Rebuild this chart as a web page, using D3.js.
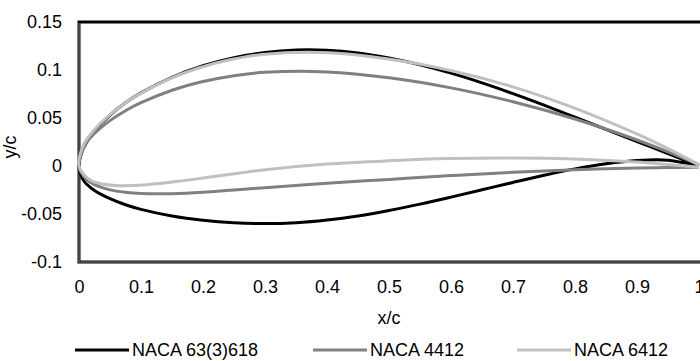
<!DOCTYPE html>
<html>
<head>
<meta charset="utf-8">
<script src="https://cdn.jsdelivr.net/npm/d3@7"></script>
<style>
  html, body { margin: 0; padding: 0; background: #fff; }
  svg { display: block; font-family: "Liberation Sans", Arial, sans-serif; }
</style>
</head>
<body>
<svg id="chart" width="700" height="361"></svg>
<script>
// Airfoil profiles, upper surface TE->LE then lower surface LE->TE

const naca63Upper = [
  [1.0, 0], [0.95, 0.0130], [0.9, 0.0254], [0.85, 0.0381], [0.8, 0.0508], [0.75, 0.0634],
  [0.7, 0.0754], [0.65, 0.0866], [0.6, 0.0967], [0.55, 0.1054], [0.5, 0.1125], [0.45, 0.1177],
  [0.4, 0.1206], [0.35, 0.1209], [0.3, 0.1183], [0.25, 0.1129], [0.2, 0.1044], [0.15, 0.0924],
  [0.1, 0.0762], [0.075, 0.0658], [0.05, 0.0531], [0.025, 0.0366], [0.0125, 0.0254],
  [0.0075, 0.0192], [0.005, 0.0155], [0, 0]
];
const naca63Lower = [
  [0.005, -0.0125], [0.0075, -0.0150], [0.0125, -0.0190], [0.025, -0.0255], [0.05, -0.0341],
  [0.075, -0.0404], [0.1, -0.0452], [0.15, -0.0521], [0.2, -0.0566], [0.25, -0.0592],
  [0.3, -0.0600], [0.35, -0.0591], [0.4, -0.0563], [0.45, -0.0520], [0.5, -0.0463],
  [0.55, -0.0397], [0.6, -0.0324], [0.65, -0.0248], [0.7, -0.0171], [0.75, -0.0097],
  [0.8, -0.0030], [0.85, 0.0023], [0.9, 0.0057], [0.95, 0.0060], [1.0, 0]
];

const naca4412Upper = [
  [1.0, 0.0013], [0.95, 0.0147], [0.9, 0.0271], [0.8, 0.0489], [0.7, 0.0669], [0.6, 0.0814],
  [0.5, 0.0919], [0.4, 0.0980], [0.3, 0.0976], [0.25, 0.0941], [0.2, 0.0880], [0.15, 0.0789],
  [0.1, 0.0659], [0.075, 0.0576], [0.05, 0.0473], [0.025, 0.0339], [0.0125, 0.0244], [0, 0]
];
const naca4412Lower = [
  [0.0125, -0.0143], [0.025, -0.0195], [0.05, -0.0249], [0.075, -0.0274], [0.1, -0.0286],
  [0.15, -0.0288], [0.2, -0.0274], [0.25, -0.0250], [0.3, -0.0226], [0.4, -0.0180],
  [0.5, -0.0140], [0.6, -0.0100], [0.7, -0.0065], [0.8, -0.0039], [0.9, -0.0022],
  [0.95, -0.0016], [1.0, -0.0013]
];

const naca6412Upper = [
  [1.0, 0.0012], [0.9515, 0.0175], [0.9024, 0.0326], [0.8035, 0.0593], [0.7037, 0.0817],
  [0.603, 0.0990], [0.5018, 0.1112], [0.4, 0.1180], [0.2955, 0.1161], [0.2433, 0.1106],
  [0.1915, 0.1018], [0.1402, 0.0891], [0.0897, 0.0720], [0.065, 0.0612], [0.041, 0.0484],
  [0.0179, 0.0325], [0.0072, 0.0219], [0, 0]
];
const naca6412Lower = [
  [0.0178, -0.0145], [0.0321, -0.0179], [0.059, -0.0203], [0.085, -0.0204], [0.1103, -0.0195],
  [0.1598, -0.0160], [0.2085, -0.0118], [0.2567, -0.0075], [0.3045, -0.0036], [0.4, 0.0020],
  [0.4982, 0.0054], [0.597, 0.0077], [0.6963, 0.0083], [0.7965, 0.0073], [0.8976, 0.0041],
  [0.9485, 0.0016], [1.0, -0.0012]
];

const seriesNames = ['NACA 63(3)618', 'NACA 4412', 'NACA 6412'];
const seriesColors = ['#000000', '#808080', '#c0c0c0'];
const seriesData = [
  naca63Upper.concat(naca63Lower),
  naca4412Upper.concat(naca4412Lower),
  naca6412Upper.concat(naca6412Lower)
];

const xTicks = [0, 0.1, 0.2, 0.3, 0.4, 0.5, 0.6, 0.7, 0.8, 0.9, 1];
const yTicks = [-0.1, -0.05, 0, 0.05, 0.1, 0.15];

// -----------------------------------------------------------------------------
// LAYOUT
// -----------------------------------------------------------------------------

const FONT = 18;
const svg = d3.select('#chart');
const plot = { left: 79, top: 22, right: 699, bottom: 262 };

const x = d3.scaleLinear().domain([0, 1]).range([plot.left, plot.right]);
const y = d3.scaleLinear().domain([-0.1, 0.15]).range([plot.bottom, plot.top]);

// plot area frame (runs off the right edge like the original)
svg.append('rect')
  .attr('x', plot.left).attr('y', plot.top)
  .attr('width', 700 - plot.left + 5).attr('height', plot.bottom - plot.top)
  .attr('fill', 'none').attr('stroke', '#000').attr('stroke-width', 3);

svg.append('line')
  .attr('x1', plot.left).attr('x2', plot.left)
  .attr('y1', plot.top + 1).attr('y2', plot.bottom)
  .attr('stroke', '#888').attr('stroke-width', 1);
svg.append('line')
  .attr('x1', plot.left).attr('x2', 700)
  .attr('y1', plot.bottom).attr('y2', plot.bottom)
  .attr('stroke', '#888').attr('stroke-width', 1);

// axes (plain hyphen for negatives, as in the original)
const fmt = d => String(+d.toFixed(2));

const xAxis = svg.append('g')
  .attr('transform', `translate(0,${plot.bottom})`)
  .call(d3.axisBottom(x).tickValues(xTicks).tickSize(0).tickPadding(18).tickFormat(fmt));
const yAxis = svg.append('g')
  .attr('transform', `translate(${plot.left},0)`)
  .call(d3.axisLeft(y).tickValues(yTicks).tickSize(0).tickPadding(17).tickFormat(fmt));

[xAxis, yAxis].forEach(g => {
  g.select('.domain').remove();
  g.selectAll('text').attr('font-size', FONT).attr('fill', '#000')
    .attr('font-family', '"Liberation Sans", Arial, sans-serif');
});

svg.append('text')
  .attr('x', (plot.left + plot.right) / 2).attr('y', 324)
  .attr('text-anchor', 'middle').attr('font-size', FONT).text('x/c');
svg.append('text')
  .attr('transform', `translate(16,147) rotate(-90)`)
  .attr('text-anchor', 'middle').attr('font-size', FONT).text('y/c');

// curves
const line = d3.line()
  .x(d => x(d[0])).y(d => y(d[1]))
  .curve(d3.curveCatmullRom.alpha(0.5));

svg.append('g').selectAll('path')
  .data(seriesData)
  .join('path')
  .attr('d', line)
  .attr('fill', 'none')
  .attr('stroke', (d, i) => seriesColors[i])
  .attr('stroke-width', 3)
  .attr('stroke-linejoin', 'round');

// legend
const legendX = [75, 313, 517];
const legend = svg.append('g').selectAll('g')
  .data(seriesNames)
  .join('g')
  .attr('transform', (d, i) => `translate(${legendX[i]},350)`);
legend.append('line')
  .attr('x1', 0).attr('x2', 54).attr('y1', 0).attr('y2', 0)
  .attr('stroke', (d, i) => seriesColors[i]).attr('stroke-width', 3);
legend.append('text')
  .attr('x', 57).attr('y', 6)
  .attr('font-size', FONT).text(d => d);
</script>
</body>
</html>
